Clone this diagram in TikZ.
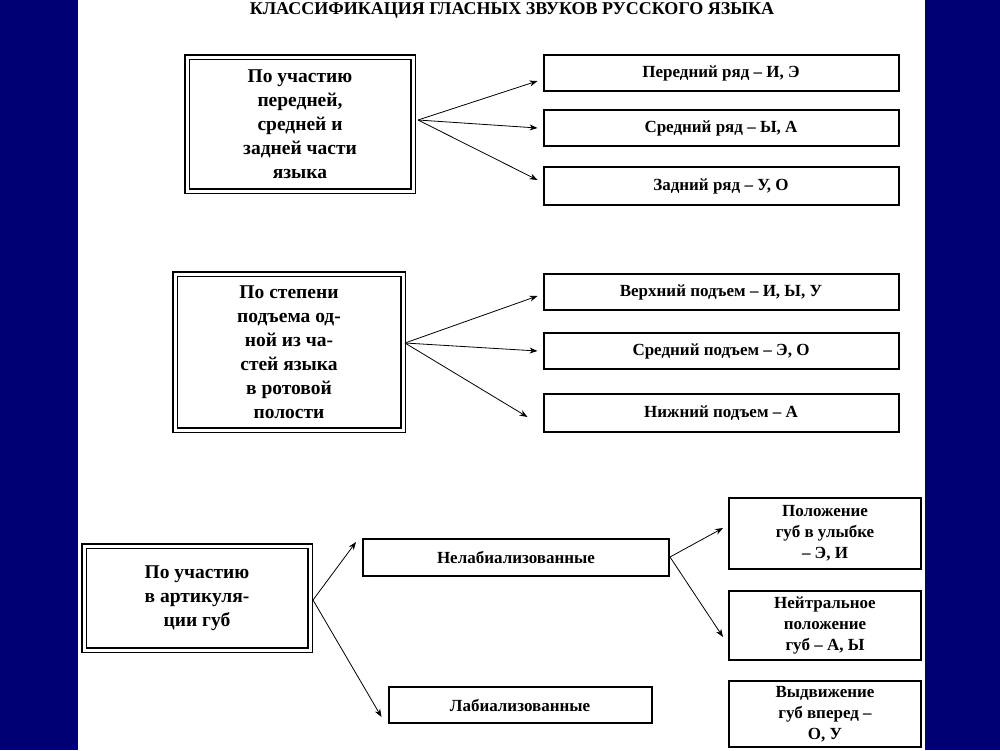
\documentclass[tikz,border=0pt]{standalone}
\usepackage{fontspec}
\setmainfont{Liberation Serif}
\usetikzlibrary{arrows.meta}
\begin{document}
\begin{tikzpicture}[x=1pt,y=-1pt,
  big/.style={draw,double,double distance=3pt,line width=1.6pt,fill=white,align=center,font=\bfseries\fontsize{19.5}{24}\selectfont,inner sep=2pt},
  sm/.style={draw,line width=2pt,fill=white,align=center,font=\bfseries\fontsize{17}{21}\selectfont,inner sep=1pt},
  ar/.style={-{Stealth[length=8pt,width=6pt]},line width=0.8pt}]
\useasboundingbox (0,0) rectangle (1000,750);
\fill[blue!45!black] (0,0) rectangle (1000,750);
\fill[white] (78,0) rectangle (925,750);
\node[font=\bfseries\fontsize{18}{20}\selectfont] (t) at (512,10) {КЛАССИФИКАЦИЯ ГЛАСНЫХ ЗВУКОВ РУССКОГО ЯЗЫКА};
% group 1
\node[big,minimum width=226pt,minimum height=134pt] (L1) at (300,124) {По участию\\передней,\\средней и\\задней части\\языка};
\node[sm,minimum width=355pt,minimum height=36pt] (a1) at (721,73) {Передний ряд – И, Э};
\node[sm,minimum width=355pt,minimum height=36pt] (a2) at (721,128) {Средний ряд – Ы, А};
\node[sm,minimum width=355pt,minimum height=38pt] (a3) at (721,186) {Задний ряд – У, О};
\coordinate (s1) at (418,120);
\draw[ar] (s1) -- ([xshift=-5pt,yshift=-8pt]a1.west);
\draw[ar] (s1) -- ([xshift=-5pt]a2.west);
\draw[ar] (s1) -- ([xshift=-5pt,yshift=6pt]a3.west);
% group 2
\node[big,minimum width=228pt,minimum height=156pt] (L2) at (289,352) {По степени\\подъема од-\\ной из ча-\\стей языка\\в ротовой\\полости};
\node[sm,minimum width=355pt,minimum height=36pt] (b1) at (721,292) {Верхний подъем – И, Ы, У};
\node[sm,minimum width=355pt,minimum height=36pt] (b2) at (721,351) {Средний подъем – Э, О};
\node[sm,minimum width=355pt,minimum height=38pt] (b3) at (721,413) {Нижний подъем – А};
\coordinate (s2) at (405,343);
\draw[ar] (s2) -- ([xshift=-5pt,yshift=-4pt]b1.west);
\draw[ar] (s2) -- ([xshift=-5pt]b2.west);
\draw[ar] (s2) -- ([xshift=-15pt,yshift=-4pt]b3.west);
% group 3
\node[big,minimum width=226pt,minimum height=104pt] (L3) at (197,598) {По участию\\в артикуля-\\ции губ};
\node[sm,minimum width=306pt,minimum height=37pt] (n) at (516,557) {Нелабиализованные};
\node[sm,minimum width=263pt,minimum height=36pt] (l) at (520,705) {Лабиализованные};
\node[sm,minimum width=192pt,minimum height=71pt] (c1) at (825,533) {Положение\\губ в улыбке\\– Э, И};
\node[sm,minimum width=192pt,minimum height=69pt] (c2) at (825,625) {Нейтральное\\положение\\губ – А, Ы};
\node[sm,minimum width=192pt,minimum height=66pt] (c3) at (825,714) {Выдвижение\\губ вперед –\\О, У};
\coordinate (s3) at (313,600);
\draw[ar] (s3) -- ([xshift=-6pt,yshift=15pt]n.west);
\draw[ar] (s3) -- ([xshift=-6pt,yshift=-12pt]l.west);
\draw[ar] (n.east) -- ([xshift=-5pt,yshift=5pt]c1.west);
\draw[ar] (n.east) -- ([xshift=-5pt,yshift=-12pt]c2.west);
\end{tikzpicture}
\end{document}
